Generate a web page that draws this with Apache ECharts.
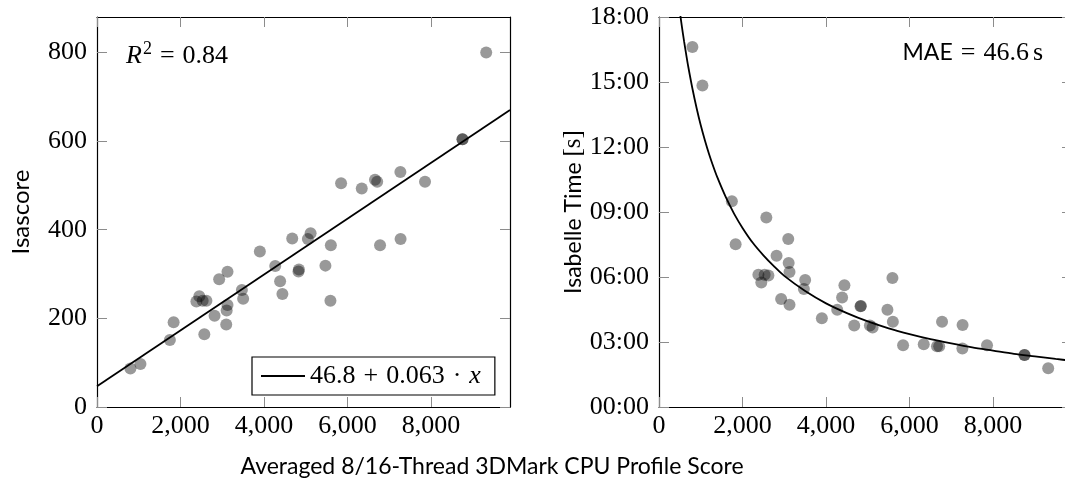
<!DOCTYPE html>
<html><head><meta charset="utf-8">
<script src="https://cdn.jsdelivr.net/npm/echarts@6/dist/echarts.min.js"></script>
<style>html,body{margin:0;padding:0;background:#fff}#c{width:1065px;height:484px}</style>
</head><body><div id="c"></div>
<script>
// ---- data ----
const cpuScore = [800, 1040, 1745, 1835, 2380, 2450, 2530, 2620, 2570, 2815, 2925, 3095, 3105, 3125, 3125,
  3470, 3500, 3900, 4268, 4385, 4440, 4675, 4825, 4835, 5050, 5115, 5470, 5590, 5600, 5845,
  6340, 6657, 6710, 6778, 7265, 7270, 7855, 8750, 8755, 9320];
const isascore = [87, 97, 151, 191, 238, 250, 240, 240, 164, 206, 288, 186, 218, 230, 305,
  264, 244, 351, 318, 284, 255, 380, 306, 310, 379, 392, 319, 240, 365, 505,
  493, 513, 508, 365, 530, 379, 508, 604, 604, 800];
const isabelleSeconds = [997, 890, 570, 451, 366, 345, 366, 364, 525, 419, 299, 465, 399, 374, 283,
  327, 352, 246, 269, 303, 337, 226, 279, 280, 226, 220, 269, 357, 236, 171,
  174, 168, 168, 236, 162, 227, 171, 144, 144, 107];
const fitLineX = [0, 9890];
const fitLineY = [46.8, 669.9];
const curveX = [500, 550, 600, 650, 700, 800, 900, 1000, 1100, 1200, 1300, 1400, 1600, 1800, 2000,
  2250, 2500, 2750, 3000, 3500, 4000, 4500, 5000, 5500, 6000, 6500, 7000, 7500, 8000, 8500, 9000, 9500, 9890];
const curveSeconds = [1094, 1052, 1013, 977, 943, 882, 828, 780, 738, 700, 666, 635, 581, 535, 496,
  454, 420, 390, 363, 321, 287, 260, 237, 218, 202, 188, 176, 165, 156, 147, 140, 133, 128];
const xTickValues = [0, 2000, 4000, 6000, 8000];
const xTickLabels = ['0', '2,000', '4,000', '6,000', '8,000'];
const leftYTickValues = [0, 200, 400, 600, 800];
const leftYTickLabels = ['0', '200', '400', '600', '800'];
const rightYTickValues = [0, 180, 360, 540, 720, 900, 1080];
const rightYTickLabels = ['00:00', '03:00', '06:00', '09:00', '12:00', '15:00', '18:00'];

const SERIF = 'Liberation Serif';
const SANS = 'Lato';
const TICK = '#8c8c8c';

function xAx(grid, pos, showLabel) {
  return {
    type: 'value', gridIndex: grid, position: pos, min: 0, max: 9890,
    axisLine: { onZero: false, lineStyle: { color: '#000', width: 1.2 } },
    axisTick: { inside: true, length: 10, customValues: xTickValues, lineStyle: { color: TICK, width: 1 } },
    axisLabel: { show: showLabel, customValues: xTickValues, margin: 6,
      formatter: v => xTickLabels[xTickValues.indexOf(v)],
      fontFamily: SERIF, fontSize: 26, color: '#000' },
    splitLine: { show: false }
  };
}
function yAx(grid, pos, showLabel, max, vals, labels, extra) {
  return Object.assign({
    type: 'value', gridIndex: grid, position: pos, min: 0, max: max,
    axisLine: { show: true, onZero: false, lineStyle: { color: '#000', width: 1.2 } },
    axisTick: { show: true, inside: true, length: 10, customValues: vals, lineStyle: { color: TICK, width: 1 } },
    axisLabel: { show: showLabel, customValues: vals, margin: 10,
      formatter: v => labels[vals.indexOf(v)],
      fontFamily: SERIF, fontSize: 26, color: '#000' },
    splitLine: { show: false }
  }, extra || {});
}

const chart = echarts.init(document.getElementById('c'), null, { renderer: 'canvas' });
chart.setOption({
  animation: false,
  backgroundColor: '#fff',
  grid: [
    { left: 97, top: 17, width: 413, height: 390, outerBoundsMode: 'none', containLabel: false },
    { left: 659, top: 17, width: 413, height: 390, outerBoundsMode: 'none', containLabel: false }
  ],
  xAxis: [xAx(0, 'bottom', true), xAx(0, 'top', false), xAx(1, 'bottom', true), xAx(1, 'top', false)],
  yAxis: [
    yAx(0, 'left', true, 880, leftYTickValues, leftYTickLabels, {
      name: 'Isascore', nameLocation: 'middle', nameGap: 64, nameRotate: 90,
      nameTextStyle: { fontFamily: SANS, fontSize: 24, color: '#000' } }),
    yAx(0, 'right', false, 880, leftYTickValues, leftYTickLabels),
    yAx(1, 'left', true, 1080, rightYTickValues, rightYTickLabels, {
      name: '{a|Isabelle Time }{b|[s]}', nameLocation: 'middle', nameGap: 66, nameRotate: 90,
      nameTextStyle: { color: '#000', rich: {
        a: { fontFamily: SANS, fontSize: 23, color: '#000' },
        b: { fontFamily: SERIF, fontSize: 25, color: '#000' } } } }),
    yAx(1, 'right', false, 1080, rightYTickValues, rightYTickLabels)
  ],
  legend: {
    data: [{ name: 'fit', icon: 'rect' }], left: 252, top: 357, itemWidth: 44, itemHeight: 2,
    itemStyle: { color: '#000', borderWidth: 0 },
    borderColor: '#000', borderWidth: 1.2, borderRadius: 0, padding: [6, 14, 6, 9],
    selectedMode: false,
    formatter: () => '{n|46.8}{o|+}{n|0.063}{o|·}{i|x}',
    textStyle: { rich: {
      n: { fontFamily: SERIF, fontSize: 26, color: '#000' },
      o: { fontFamily: SERIF, fontSize: 26, color: '#000', padding: [0, 8] },
      i: { fontFamily: SERIF, fontSize: 26, fontStyle: 'italic', color: '#000' } } }
  },
  graphic: [
    { type: 'text', left: 126, top: 40, z: 100, style: {
      text: '{i|R}{s|2}{o|=}{n|0.84}',
      rich: {
        i: { fontFamily: SERIF, fontSize: 26, fontStyle: 'italic', fill: '#000' },
        s: { fontFamily: SERIF, fontSize: 18, fill: '#000', padding: [0, 0, 14, 1] },
        o: { fontFamily: SERIF, fontSize: 26, fill: '#000', padding: [0, 8] },
        n: { fontFamily: SERIF, fontSize: 26, fill: '#000' } } } },
    { type: 'text', right: 22, top: 40, z: 100, style: {
      text: '{m|MAE}{o|=}{n|46.6}{u|s}',
      rich: {
        m: { fontFamily: SANS, fontSize: 23, fill: '#000' },
        o: { fontFamily: SERIF, fontSize: 26, fill: '#000', padding: [0, 8] },
        n: { fontFamily: SERIF, fontSize: 26, fill: '#000' },
        u: { fontFamily: SERIF, fontSize: 26, fill: '#000', padding: [0, 0, 0, 4] } } } },
    { type: 'text', x: 492, y: 467, z: 100, style: {
      text: 'Averaged 8/16-Thread 3DMark CPU Profile Score',
      fontFamily: SANS, fontSize: 23, fill: '#000', align: 'center', verticalAlign: 'middle' } }
  ],
  series: [
    { type: 'scatter', xAxisIndex: 0, yAxisIndex: 0, symbolSize: 12,
      itemStyle: { color: 'rgba(0,0,0,0.5)' }, emphasis: { disabled: true }, z: 3,
      data: cpuScore.map((x, i) => [x, isascore[i]]) },
    { type: 'line', name: 'fit', xAxisIndex: 0, yAxisIndex: 0, symbol: 'none', showSymbol: false,
      lineStyle: { color: '#000', width: 1.8 }, itemStyle: { color: '#000' }, z: 4,
      emphasis: { disabled: true },
      data: fitLineX.map((x, i) => [x, fitLineY[i]]) },
    { type: 'scatter', xAxisIndex: 2, yAxisIndex: 2, symbolSize: 12,
      itemStyle: { color: 'rgba(0,0,0,0.5)' }, emphasis: { disabled: true }, z: 3,
      data: cpuScore.map((x, i) => [x, isabelleSeconds[i]]) },
    { type: 'line', name: 'curve', xAxisIndex: 2, yAxisIndex: 2, symbol: 'none', showSymbol: false,
      smooth: 0.3, clip: true, lineStyle: { color: '#000', width: 1.8 }, z: 4,
      emphasis: { disabled: true },
      data: curveX.map((x, i) => [x, curveSeconds[i]]) }
  ]
});
</script>
</body></html>
